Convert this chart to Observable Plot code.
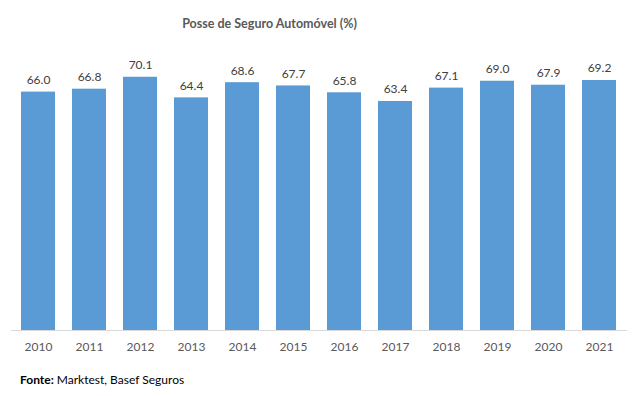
<!DOCTYPE html>
<html>
<head>
<meta charset="utf-8">
<script src="https://cdn.jsdelivr.net/npm/d3@7"></script>
<script src="https://cdn.jsdelivr.net/npm/@observablehq/plot@0.6"></script>
<style>
  body { margin: 0; background: #fff; }
  #wrap { position: relative; width: 637px; height: 396px; font-family: Lato, "Open Sans", sans-serif; }
  #footer { position: absolute; left: 20px; top: 372px; font-size: 12px; color: #000; white-space: nowrap; }
</style>
</head>
<body>
<div id="wrap">
  <div id="chart"></div>
  <div id="footer"><b>Fonte:</b> Marktest, Basef Seguros</div>
</div>
<script>
const years = ["2010","2011","2012","2013","2014","2015","2016","2017","2018","2019","2020","2021"];
const values = [66.0, 66.8, 70.1, 64.4, 68.6, 67.7, 65.8, 63.4, 67.1, 69.0, 67.9, 69.2];
const title = "Posse de Seguro Automóvel (%)";

const data = years.map((y, i) => ({year: y, value: values[i]}));

const chart = Plot.plot({
  width: 637,
  height: 396,
  marginTop: 41,
  marginBottom: 66,
  marginLeft: 11,
  marginRight: 10,
  style: {fontFamily: "Lato, 'Open Sans', sans-serif", background: "#fff"},
  x: {domain: years, paddingInner: 0.33, paddingOuter: 0.165, label: null, tickSize: 0, tickPadding: 12},
  y: {domain: [0, 80], axis: null},
  marks: [
    Plot.barY(data, {x: "year", y: "value", fill: "#5B9BD5"}),
    Plot.ruleY([0], {stroke: "#d9d9d9", strokeWidth: 1}),
    Plot.text(data, {x: "year", y: "value", text: d => d.value.toFixed(1), dy: -12, fontSize: 12, fill: "#404040"}),
    Plot.text([title], {frameAnchor: "top", dx: -50, dy: -22, fontSize: 12.5, fontWeight: "bold", fill: "#595959"}),
    Plot.axisX({tickSize: 0, tickPadding: 12, fontSize: 12, color: "#595959", label: null})
  ]
});
document.getElementById("chart").appendChild(chart);
</script>
</body>
</html>
